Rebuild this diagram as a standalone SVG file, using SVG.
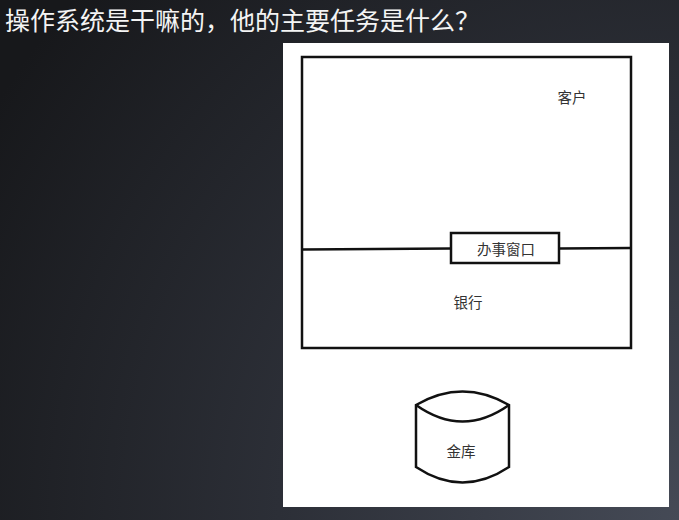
<svg xmlns="http://www.w3.org/2000/svg" width="679" height="520" viewBox="0 0 679 520">
  <defs>
    <radialGradient id="bg" cx="679" cy="520" r="800" gradientUnits="userSpaceOnUse">
      <stop offset="0" stop-color="#454a56"/>
      <stop offset="0.5" stop-color="#2c2f37"/>
      <stop offset="1" stop-color="#17181b"/>
    </radialGradient>
    <style>
      .ln { fill: none; stroke: #111; stroke-width: 2.5; }
      .box { fill: #fff; stroke: #111; stroke-width: 2.5; }
      .lbl { font-family: "Noto Sans CJK SC", "Noto Sans", sans-serif; font-size: 14.5px; fill: #333; text-anchor: middle; dominant-baseline: central; }
      .title { font-family: "Noto Sans CJK SC", "Noto Sans", sans-serif; font-size: 25px; fill: #f4f4f4; }
    </style>
  </defs>
  <rect x="0" y="0" width="679" height="520" fill="url(#bg)"/>
  <text class="title" x="5" y="30">操作系统是干嘛的，他的主要任务是什么？</text>
  <rect x="283" y="43" width="386" height="464" fill="#fff"/>

  <g id="connectors">
    <path class="ln" d="M302 249.5 L451 248.5"/>
    <path class="ln" d="M559 248.5 L631 248"/>
  </g>

  <g id="customer">
    <rect class="ln" x="302" y="57" width="329" height="291"/>
    <text class="lbl" x="572" y="96">客户</text>
  </g>

  <g id="bank">
    <text class="lbl" x="468" y="301">银行</text>
  </g>

  <g id="window">
    <rect class="box" x="451" y="233" width="108" height="30"/>
    <text class="lbl" x="506" y="248">办事窗口</text>
  </g>

  <g id="vault">
    <path class="ln" d="M416 405 Q462.5 378 509 405 L509 467 Q462.5 498 416 467 Z"/>
    <path class="ln" d="M416 405 Q462.5 438 509 405"/>
    <text class="lbl" x="461" y="450">金库</text>
  </g>
</svg>
